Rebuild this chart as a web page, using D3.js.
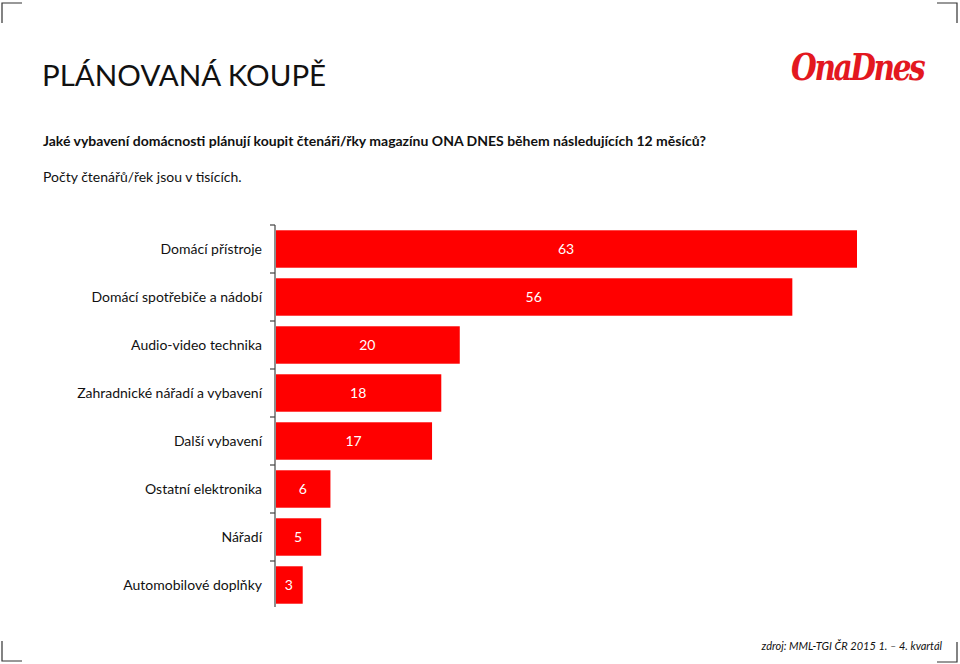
<!DOCTYPE html>
<html><head><meta charset="utf-8">
<script src="https://cdn.jsdelivr.net/npm/d3@7"></script>
<style>
html,body{margin:0;padding:0;background:#fff;}
svg{display:block;}
</style></head>
<body>
<svg id="chart" width="960" height="664"></svg>
<script>
const categories = ["Domácí přístroje","Domácí spotřebiče a nádobí","Audio-video technika","Zahradnické nářadí a vybavení","Další vybavení","Ostatní elektronika","Nářadí","Automobilové doplňky"];
const values = [63, 56, 20, 18, 17, 6, 5, 3];
const titleText = "PLÁNOVANÁ KOUPĚ";
const subtitleText = "Jaké vybavení domácnosti plánují koupit čtenáři/řky magazínu ONA DNES během následujících 12 měsíců?";
const noteText = "Počty čtenářů/řek jsou v tisících.";
const sourceText = "zdroj: MML-TGI ČR 2015 1. – 4. kvartál";
const logoText = "OnaDnes";

const svg = d3.select("#chart");
const font = "Lato, 'Open Sans', sans-serif";

// corner crop marks
const marks = [
  [[2,23],[2,3],[22,3]],
  [[937,3],[957,3],[957,23]],
  [[2,641],[2,661],[22,661]],
  [[937,662],[957,662],[957,642]]
];
svg.selectAll("path.mark").data(marks).join("path")
  .attr("class","mark")
  .attr("d", d => d3.line()(d))
  .attr("fill","none").attr("stroke","#333").attr("stroke-width",1.2);

svg.append("text").attr("x",42).attr("y",86)
  .attr("font-family",font).attr("font-size",29.5).attr("fill","#111")
  .text(titleText);

svg.append("text").attr("x",43).attr("y",146)
  .attr("font-family",font).attr("font-weight","bold").attr("font-size",14).attr("fill","#111")
  .text(subtitleText);

svg.append("text").attr("x",43).attr("y",182)
  .attr("font-family",font).attr("font-size",14).attr("fill","#111")
  .text(noteText);

svg.append("text")
  .attr("transform","translate(791,80) scale(0.8,1)")
  .attr("font-family","'DejaVu Serif', serif").attr("font-weight","bold").attr("font-style","italic")
  .attr("font-size",37).attr("letter-spacing",-3).attr("fill","#e3181f")
  .text(logoText);

svg.append("text").attr("x",942).attr("y",650).attr("text-anchor","end")
  .attr("font-family",font).attr("font-style","italic").attr("font-size",11).attr("fill","#111")
  .text(sourceText);

// chart
const x0 = 275, y0 = 225, bandH = 48;
const x = d3.scaleLinear().domain([0, 63]).range([x0, 857]);
const y = d3.scaleBand().domain(categories).range([y0, y0 + bandH*categories.length]).paddingInner(0.22).paddingOuter(0.11);

svg.selectAll("rect.bar").data(values).join("rect")
  .attr("class","bar")
  .attr("x", x0+1)
  .attr("y", (d,i)=> y(categories[i]))
  .attr("width", d => x(d)-x0-1)
  .attr("height", y.bandwidth())
  .attr("fill","#ff0000");

svg.selectAll("text.val").data(values).join("text")
  .attr("class","val")
  .attr("x", d => (x0 + x(d))/2)
  .attr("y", (d,i)=> y(categories[i]) + y.bandwidth()/2 + 5)
  .attr("text-anchor","middle")
  .attr("font-family",font).attr("font-size",14).attr("fill","#fff")
  .text(d => d);

svg.selectAll("text.cat").data(categories).join("text")
  .attr("class","cat")
  .attr("x", 262)
  .attr("y", d => y(d) + y.bandwidth()/2 + 5)
  .attr("text-anchor","end")
  .attr("font-family",font).attr("font-size",14).attr("fill","#111")
  .text(d => d);

// axis line and ticks at category boundaries
const g = svg.append("g");
g.append("line").attr("x1",x0).attr("x2",x0).attr("y1",y0).attr("y2",y0+bandH*categories.length-2)
  .attr("stroke","#444").attr("stroke-width",1.2);
g.selectAll("line.tick").data(d3.range(categories.length)).join("line")
  .attr("class","tick")
  .attr("x1",x0-5).attr("x2",x0)
  .attr("y1",i=> y0 + i*bandH).attr("y2",i=> y0 + i*bandH)
  .attr("stroke","#444").attr("stroke-width",1.2);
</script>
</body></html>
